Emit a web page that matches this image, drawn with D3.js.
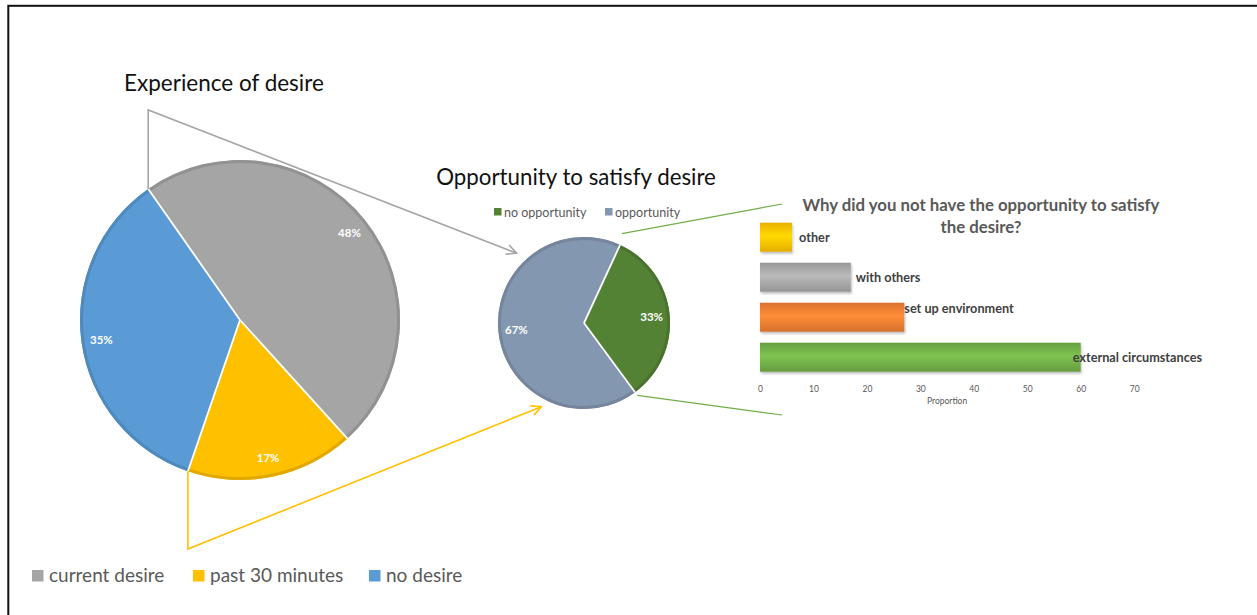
<!DOCTYPE html>
<html>
<head>
<meta charset="utf-8">
<script src="https://cdn.jsdelivr.net/npm/d3@7"></script>
<style>
  html, body { margin: 0; padding: 0; background: #fff; }
  svg { display: block; font-family: Lato, "Open Sans", sans-serif; }
</style>
</head>
<body>
<svg id="chart" width="1257" height="615"></svg>
<script>
// ---- data ----
const desireCategories = ["current desire", "past 30 minutes", "no desire"];
const desireValues = [48, 17, 35];

const opportunityCategories = ["no opportunity", "opportunity"];
const opportunityValues = [33, 67];

const reasonCategories = ["other", "with others", "set up environment", "external circumstances"];
const reasonValues = [6, 17, 27, 60];
const reasonTicks = [0, 10, 20, 30, 40, 50, 60, 70];

// ---- styling ----
const desireColors = ["#A5A5A5", "#FFC000", "#5B9BD5"];
const opportunityColors = ["#548235", "#8497B0"];
const reasonColors = ["#FFC000", "#A5A5A5", "#ED7D31", "#70AD47"];
const labelNudge = { "other": [7, 0], "with others": [5, 0], "set up environment": [0, -9], "external circumstances": [-8, 0] };

const svg = d3.select("#chart");
const deg = Math.PI / 180;
const defs = svg.append("defs");

// frame
svg.append("rect").attr("x", 8.3).attr("y", 5.8).attr("width", 1300).attr("height", 700)
  .attr("fill", "none").attr("stroke", "#111").attr("stroke-width", 2);

// open chevron arrowheads
function arrowMarker(id, color) {
  defs.append("marker").attr("id", id).attr("viewBox", "0 0 12 12")
    .attr("refX", 11).attr("refY", 6).attr("markerWidth", 12).attr("markerHeight", 12)
    .attr("markerUnits", "userSpaceOnUse").attr("orient", "auto")
    .append("path").attr("d", "M1,1 L11,6 L1,11").attr("fill", "none")
    .attr("stroke", color).attr("stroke-width", 1.6);
}
arrowMarker("arrGray", "#A5A5A5");
arrowMarker("arrYellow", "#FFC000");

function polar(c, r, a) { return [c[0] + r * Math.sin(a), c[1] - r * Math.cos(a)]; }

// pie with darker rim and white separators
function drawPie(g, center, r, values, colors, startAngle, labelR, fontSize) {
  const arcs = d3.pie().sort(null).startAngle(startAngle).endAngle(startAngle + 2 * Math.PI)(values);
  const arc = d3.arc().innerRadius(0).outerRadius(r);
  const rim = d3.arc().innerRadius(r - 3).outerRadius(r);
  const gg = g.append("g").attr("transform", `translate(${center[0]},${center[1]})`);
  gg.selectAll("path.slice").data(arcs).join("path").attr("class", "slice")
    .attr("d", arc).attr("fill", (d, i) => colors[i]);
  gg.selectAll("path.rim").data(arcs).join("path").attr("class", "rim")
    .attr("d", rim).attr("fill", (d, i) => d3.color(colors[i]).darker(0.35));
  gg.selectAll("line.sep").data(arcs).join("line").attr("class", "sep")
    .attr("x1", 0).attr("y1", 0)
    .attr("x2", d => r * Math.sin(d.startAngle)).attr("y2", d => -r * Math.cos(d.startAngle))
    .attr("stroke", "#fff").attr("stroke-width", 1.8);
  const lab = d3.arc().innerRadius(labelR).outerRadius(labelR);
  gg.selectAll("text").data(arcs).join("text")
    .attr("transform", d => `translate(${lab.centroid(d)})`)
    .attr("text-anchor", "middle").attr("dominant-baseline", "central")
    .attr("fill", "#fff").attr("font-weight", "bold").attr("font-size", fontSize)
    .text(d => d.value + "%");
  return arcs;
}

// ---- big pie: experience of desire ----
const bigC = [240, 320], bigR = 160;
const bigArcs = drawPie(svg, bigC, bigR, desireValues, desireColors, -35 * deg, 140, 11.5);

svg.append("text").attr("x", 124).attr("y", 91).attr("font-size", 22.5).attr("fill", "#111")
  .text("Experience of desire");

// ---- small pie: opportunity ----
const smC = [584, 323], smR = 86;
const smArcs = drawPie(svg, smC, smR, opportunityValues, opportunityColors, 24.8 * deg, 68, 11.5);

svg.append("text").attr("x", 576).attr("y", 185).attr("text-anchor", "middle")
  .attr("font-size", 22.3).attr("fill", "#111").text("Opportunity to satisfy desire");

// small pie legend
const smLeg = svg.append("g").attr("font-size", 12.5).attr("fill", "#595959");
const smLegX = [494, 605];
opportunityCategories.forEach((c, i) => {
  smLeg.append("rect").attr("x", smLegX[i]).attr("y", 208).attr("width", 7.5).attr("height", 7.5)
    .attr("fill", opportunityColors[i]);
  smLeg.append("text").attr("x", smLegX[i] + 10).attr("y", 216.5).text(c);
});

// ---- connectors ----
// gray: from current-desire start edge up, then to the opportunity pie
const gStart = polar(bigC, bigR, bigArcs[0].startAngle);
const gTip = polar(smC, smR + 11, -44 * deg);
svg.append("path").attr("d", d3.line()([gStart, [gStart[0], 110], gTip]))
  .attr("fill", "none").attr("stroke", "#A5A5A5").attr("stroke-width", 1.6)
  .attr("marker-end", "url(#arrGray)");

// yellow: from past-30-minutes end edge down, then to the opportunity pie
const yStart = polar(bigC, bigR, bigArcs[1].endAngle);
const yTip = polar(smC, smR + 8, 207 * deg);
svg.append("path").attr("d", d3.line()([yStart, [yStart[0], 549], yTip]))
  .attr("fill", "none").attr("stroke", "#FFC000").attr("stroke-width", 1.6)
  .attr("marker-end", "url(#arrYellow)");

// green: no-opportunity slice out to the bar chart
const p1 = polar(smC, smR + 11, 23 * deg);
const p2 = polar(smC, smR + 4, smArcs[0].endAngle);
svg.append("line").attr("x1", p1[0]).attr("y1", p1[1]).attr("x2", 782).attr("y2", 204)
  .attr("stroke", "#70AD47").attr("stroke-width", 1.2);
svg.append("line").attr("x1", p2[0]).attr("y1", p2[1]).attr("x2", 782).attr("y2", 415)
  .attr("stroke", "#70AD47").attr("stroke-width", 1.2);

// ---- bar chart: reasons ----
const x = d3.scaleLinear().domain([0, 60]).range([760, 1080.7]);
const y = d3.scaleBand().domain(reasonCategories).range([217.2, 377.2])
  .paddingInner(0.275).paddingOuter(0.1375);

reasonColors.forEach((c, i) => {
  const grad = defs.append("linearGradient").attr("id", "bg" + i)
    .attr("x1", 0).attr("y1", 0).attr("x2", 0).attr("y2", 1);
  const base = d3.color(c);
  grad.append("stop").attr("offset", "0%").attr("stop-color", base.darker(0.25));
  grad.append("stop").attr("offset", "45%").attr("stop-color", base.brighter(0.35));
  grad.append("stop").attr("offset", "100%").attr("stop-color", base.darker(0.3));
});
defs.append("filter").attr("id", "shadow").attr("x", "-5%").attr("y", "-20%").attr("width", "115%").attr("height", "160%")
  .append("feDropShadow").attr("dx", 1).attr("dy", 2).attr("stdDeviation", 1.2)
  .attr("flood-color", "#000").attr("flood-opacity", 0.25);

svg.append("g").selectAll("rect").data(reasonValues).join("rect")
  .attr("x", x(0)).attr("y", (d, i) => y(reasonCategories[i]))
  .attr("width", d => x(d) - x(0)).attr("height", y.bandwidth())
  .attr("fill", (d, i) => `url(#bg${i})`).attr("filter", "url(#shadow)");

svg.append("g").selectAll("text").data(reasonValues).join("text")
  .attr("x", (d, i) => x(d) + labelNudge[reasonCategories[i]][0])
  .attr("y", (d, i) => y(reasonCategories[i]) + y.bandwidth() / 2 + labelNudge[reasonCategories[i]][1])
  .attr("dominant-baseline", "central").attr("font-size", 12.7).attr("font-weight", "bold")
  .attr("fill", "#404040").text((d, i) => reasonCategories[i]);

const xAxis = svg.append("g").attr("transform", "translate(0,378)")
  .call(d3.axisBottom(x).tickValues(reasonTicks).tickSize(0).tickPadding(8));
xAxis.select(".domain").remove();
xAxis.selectAll("text").attr("font-size", 8.5).attr("fill", "#595959").attr("font-family", "Lato, sans-serif");

svg.append("text").attr("x", x(35)).attr("y", 404).attr("text-anchor", "middle")
  .attr("font-size", 8.5).attr("fill", "#595959").text("Proportion");

const bt = svg.append("text").attr("text-anchor", "middle").attr("font-size", 16.8)
  .attr("font-weight", "bold").attr("fill", "#595959");
bt.append("tspan").attr("x", 981).attr("y", 211).text("Why did you not have the opportunity to satisfy");
bt.append("tspan").attr("x", 981).attr("y", 233).text("the desire?");

// ---- main legend ----
const leg = svg.append("g").attr("font-size", 19).attr("fill", "#595959");
const legX = [32, 193, 369];
desireCategories.forEach((c, i) => {
  leg.append("rect").attr("x", legX[i]).attr("y", 570).attr("width", 11.5).attr("height", 11.5)
    .attr("fill", desireColors[i]);
  leg.append("text").attr("x", legX[i] + 17).attr("y", 582).text(c);
});
</script>
</body>
</html>
